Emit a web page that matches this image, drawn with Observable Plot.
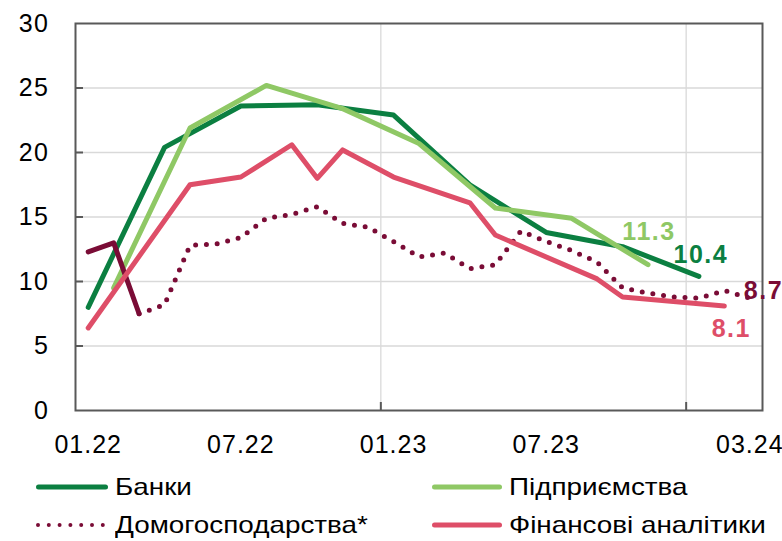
<!DOCTYPE html>
<html>
<head>
<meta charset="utf-8">
<script src="https://cdn.jsdelivr.net/npm/d3@7"></script>
<script src="https://cdn.jsdelivr.net/npm/@observablehq/plot@0.6"></script>
<style>
  html, body { margin: 0; padding: 0; background: #fff; }
  #wrap { width: 782px; height: 541px; position: relative; overflow: hidden; font-family: "Liberation Sans", Arial, sans-serif; }
  #legend { position: relative; width: 782px; height: 79px; }
  .item { position: absolute; height: 30px; display: flex; align-items: center; }
  .item svg { display: block; }
  .item span { display: inline-block; font-size: 24px; color: #000; transform: scaleX(1.16); transform-origin: left center; white-space: nowrap; margin-left: 7px; }
  svg text { letter-spacing: 1.5px; }
  svg g[aria-label="x-axis tick label"] text { letter-spacing: 1px; }
</style>
</head>
<body>
<div id="wrap">
  <div id="chart"></div>
  <div id="legend"></div>
</div>
<script>
// ---- data ----
const months = ["01.22","02.22","03.22","04.22","05.22","06.22","07.22","08.22","09.22","10.22","11.22","12.22",
                "01.23","02.23","03.23","04.23","05.23","06.23","07.23","08.23","09.23","10.23","11.23","12.23",
                "01.24","02.24","03.24"];
const xTickLabels = ["01.22","07.22","01.23","07.23","03.24"];
const yTicks = [0,5,10,15,20,25,30];
const yearBreakMonths = ["01.23","01.24"];

const seriesNames = ["Банки","Підприємства","Домогосподарства*","Фінансові аналітики"];
const seriesColors = ["#0B7F41","#8FC865","#7A0C36","#DE4E68"];

const banksMonths = ["01.22","04.22","07.22","10.22","01.23","04.23","07.23","10.23","01.24"];
const banksValues = [8.0, 20.4, 23.6, 23.7, 22.9, 17.5, 13.8, 12.7, 10.4];

const firmsMonths = ["02.22","05.22","08.22","11.22","02.23","05.23","08.23","11.23"];
const firmsValues = [9.5, 21.9, 25.2, 23.4, 20.7, 15.7, 14.9, 11.3];

const householdsMonths = months;
const householdsValues = [12.3, 13.0, 7.5, 8.2, 12.8, 12.9, 13.4, 14.9, 15.2, 15.8, 14.5, 14.2,
                          13.1, 11.9, 12.2, 11.0, 11.3, 13.9, 13.1, 12.4, 11.5, 9.5, 9.1, 8.8,
                          8.7, 9.3, 8.7];

const analystsMonths = ["01.22","05.22","07.22","09.22","10.22","11.22","01.23","04.23","05.23","09.23","10.23","02.24"];
const analystsValues = [6.4, 17.5, 18.1, 20.6, 18.0, 20.2, 18.1, 16.1, 13.6, 10.2, 8.8, 8.1];

// ---- build tables ----
const pos = m => months.indexOf(m) + 0.5;
const toRows = (ms, vs) => ms.map((m, i) => ({x: pos(m), v: vs[i]}));
const banks = toRows(banksMonths, banksValues);
const firms = toRows(firmsMonths, firmsValues);
const households = toRows(householdsMonths, householdsValues);
const analysts = toRows(analystsMonths, analystsValues);
const hhSolid = households.slice(0, 3);
const hhDotted = households.slice(2);
const yearBreaks = yearBreakMonths.map(m => months.indexOf(m));
const gridValues = yTicks.filter(d => d > 0 && d < 30);

const W = 782, H = 462, mL = 75, mR = 20, mT = 23, mB = 52;
const plotW = W - mL - mR, plotH = H - mT - mB;

const lineOpts = (c) => ({x: "x", y: "v", stroke: c, strokeWidth: 5, strokeLinejoin: "round", strokeLinecap: "round"});
const labelFont = {fontSize: 25, fontWeight: "bold"};

const chart = Plot.plot({
  width: W, height: H,
  marginLeft: mL, marginRight: mR, marginTop: mT, marginBottom: mB,
  style: {fontFamily: "'Liberation Sans', Arial, sans-serif", fontSize: "25px", color: "#000", background: "#fff", overflow: "visible"},
  x: {domain: [0, months.length]},
  y: {domain: [0, 30]},
  marks: [
    Plot.ruleY(gridValues, {stroke: "#D9D9D9", strokeWidth: 1.3}),
    Plot.ruleX(yearBreaks, {stroke: "#D9D9D9", strokeWidth: 1.3}),
    Plot.ruleY(gridValues, {stroke: "#595959", strokeWidth: 2, insetRight: plotW - 8}),
    Plot.ruleX(yearBreaks, {stroke: "#595959", strokeWidth: 2, insetTop: plotH - 8}),
    Plot.frame({stroke: "#595959", strokeWidth: 2}),
    Plot.axisY({ticks: yTicks, tickSize: 0, tickPadding: 26, label: null, fontSize: 25}),
    Plot.axisX({ticks: xTickLabels.map(pos), tickFormat: d => months[Math.floor(d)], tickSize: 0, tickPadding: 25, label: null, fontSize: 25}),
    Plot.line(banks, lineOpts(seriesColors[0])),
    Plot.line(firms, lineOpts(seriesColors[1])),
    Plot.line(hhSolid, lineOpts(seriesColors[2])),
    Plot.line(hhDotted, {...lineOpts(seriesColors[2]), strokeDasharray: "0 10.8"}),
    Plot.line(analysts, lineOpts(seriesColors[3])),
    Plot.text(firms.slice(-1), {x: "x", y: "v", text: d => d.v.toFixed(1), fill: seriesColors[1], dx: 1, dy: -33, ...labelFont}),
    Plot.text(banks.slice(-1), {x: "x", y: "v", text: d => d.v.toFixed(1), fill: seriesColors[0], dx: 2, dy: -21, ...labelFont}),
    Plot.text(households.slice(-1), {x: "x", y: "v", text: d => d.v.toFixed(1), fill: seriesColors[2], dx: -6, dy: -7, textAnchor: "start", ...labelFont}),
    Plot.text(analysts.slice(-1), {x: "x", y: "v", text: d => d.v.toFixed(1), fill: seriesColors[3], dx: 7, dy: 23, ...labelFont})
  ]
});
document.getElementById("chart").appendChild(chart);

// ---- legend ----
const legendItems = [
  {name: seriesNames[0], color: seriesColors[0], dotted: false, left: 36, top: 10, sw: 72},
  {name: seriesNames[1], color: seriesColors[1], dotted: false, left: 432, top: 10, sw: 70},
  {name: seriesNames[2], color: seriesColors[2], dotted: true, left: 36, top: 48, sw: 72},
  {name: seriesNames[3], color: seriesColors[3], dotted: false, left: 432, top: 48, sw: 70}
];
const legend = document.getElementById("legend");
for (const it of legendItems) {
  const div = document.createElement("div");
  div.className = "item";
  div.style.left = it.left + "px";
  div.style.top = it.top + "px";
  const dash = it.dotted ? 'stroke-dasharray="0 10.8" stroke-width="4"' : 'stroke-width="5"';
  const x1 = it.dotted ? 2 : 2.5, x2 = it.dotted ? it.sw - 2 : it.sw - 2.5;
  div.innerHTML = `<svg width="${it.sw}" height="10"><line x1="${x1}" y1="5" x2="${x2}" y2="5" stroke="${it.color}" ${dash} stroke-linecap="round"/></svg><span>${it.name}</span>`;
  legend.appendChild(div);
}
</script>
</body>
</html>
